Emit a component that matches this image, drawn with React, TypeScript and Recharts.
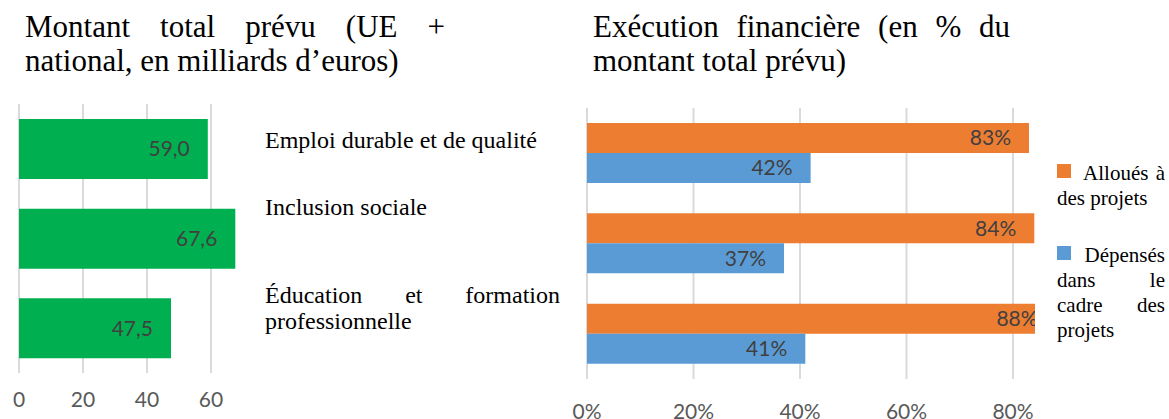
import { BarChart, Bar, XAxis, YAxis, CartesianGrid, LabelList } from 'recharts';

const categories = [
  'Emploi durable et de qualité',
  'Inclusion sociale',
  'Éducation et formation professionnelle',
];
const montantTotal = [59.0, 67.6, 47.5];
const alloues = [0.83, 0.84, 0.88];
const depenses = [0.42, 0.37, 0.41];
const seriesNames = ['Alloués à des projets', 'Dépensés dans le cadre des projets'];
const montantTicks = [0, 20, 40, 60];
const pctTicks = [0, 0.2, 0.4, 0.6, 0.8];

const montantData = categories.map((cat, i) => ({ cat, value: montantTotal[i] }));
const execData = categories.map((cat, i) => ({ cat, alloues: alloues[i], depenses: depenses[i] }));

const serif = '"Liberation Serif", "Times New Roman", serif';
const sans = 'Lato, "Open Sans", sans-serif';
const seriesColors = ['#ED7D31', '#5B9BD5'];
const gridColor = '#DADADA';
const tickStyle = { fill: '#595959', fontSize: 21, fontFamily: sans };

// vertical placement of the free text
const categoryTops = [127, 194, 282];
const legendTops = [161, 243];

const fmtMontant = (v: any) => Number(v).toFixed(1).replace('.', ',');
const fmtPct = (v: any) => `${Math.round(Number(v) * 100)}%`;

export default function App() {
  return (
    <div style={{ position: 'absolute', left: 0, top: 0, width: 1169, height: 419, background: '#fff', overflow: 'hidden' }}>
      {/* titles */}
      <div style={{ position: 'absolute', left: 25, top: 9.5, width: 420, fontFamily: serif, fontSize: 31, lineHeight: '34px', textAlign: 'justify', color: '#000' }}>
        Montant total prévu (UE + national, en milliards d’euros)
      </div>
      <div style={{ position: 'absolute', left: 593, top: 9.5, width: 417, fontFamily: serif, fontSize: 31, lineHeight: '34px', textAlign: 'justify', color: '#000' }}>
        Exécution financière (en % du montant total prévu)
      </div>

      {/* left chart: amounts */}
      <div style={{ position: 'absolute', left: 0, top: 0 }}>
        <BarChart layout="vertical" width={260} height={419} data={montantData} margin={{ top: 104, right: 17, bottom: 0, left: 19 }}>
          <CartesianGrid horizontal={false} syncWithTicks stroke={gridColor} strokeWidth={2} />
          <XAxis
            type="number"
            domain={[0, 70]}
            ticks={montantTicks}
            interval={0}
            axisLine={false}
            tickLine={false}
            tickSize={0}
            tickMargin={19}
            height={46}
            tick={tickStyle}
          />
          <YAxis type="category" dataKey="cat" hide />
          <Bar dataKey="value" fill="#00B050" barSize={60} isAnimationActive={false}>
            <LabelList dataKey="value" position="insideRight" offset={18} formatter={fmtMontant} fill="#404040" fontSize={21} fontFamily={sans} />
          </Bar>
        </BarChart>
      </div>

      {/* category names between the charts */}
      {categories.map((c, i) => (
        <div key={c} style={{ position: 'absolute', left: 265, top: categoryTops[i], width: 295, fontFamily: serif, fontSize: 24, lineHeight: '26px', textAlign: 'justify', color: '#000' }}>
          {c}
        </div>
      ))}

      {/* right chart: execution, cropped at the right like the original */}
      <div style={{ position: 'absolute', left: 540, top: 0, width: 495, height: 419, overflow: 'hidden' }}>
        <BarChart layout="vertical" width={600} height={419} data={execData} barGap={0} margin={{ top: 108, right: 20.5, bottom: 0, left: 47 }}>
          <CartesianGrid horizontal={false} syncWithTicks stroke={gridColor} strokeWidth={2} />
          <XAxis
            type="number"
            domain={[0, 1]}
            ticks={pctTicks}
            interval={0}
            tickFormatter={fmtPct}
            axisLine={false}
            tickLine={false}
            tickSize={0}
            tickMargin={25}
            height={40}
            tick={tickStyle}
          />
          <YAxis type="category" dataKey="cat" hide />
          <Bar dataKey="alloues" name={seriesNames[0]} fill={seriesColors[0]} barSize={30} isAnimationActive={false}>
            <LabelList dataKey="alloues" position="insideRight" offset={18} formatter={fmtPct} fill="#404040" fontSize={21} fontFamily={sans} />
          </Bar>
          <Bar dataKey="depenses" name={seriesNames[1]} fill={seriesColors[1]} barSize={30} isAnimationActive={false}>
            <LabelList dataKey="depenses" position="insideRight" offset={18} formatter={fmtPct} fill="#404040" fontSize={21} fontFamily={sans} />
          </Bar>
        </BarChart>
      </div>

      {/* legend */}
      {seriesNames.map((name, i) => (
        <div key={name} style={{ position: 'absolute', left: 1057, top: legendTops[i], width: 108, fontFamily: serif, fontSize: 21, lineHeight: '25px', textAlign: 'justify', color: '#000' }}>
          <span style={{ display: 'inline-block', width: 14, height: 14, background: seriesColors[i], marginRight: 6, marginBottom: 2 }} />{' '}
          {name}
        </div>
      ))}
    </div>
  );
}
